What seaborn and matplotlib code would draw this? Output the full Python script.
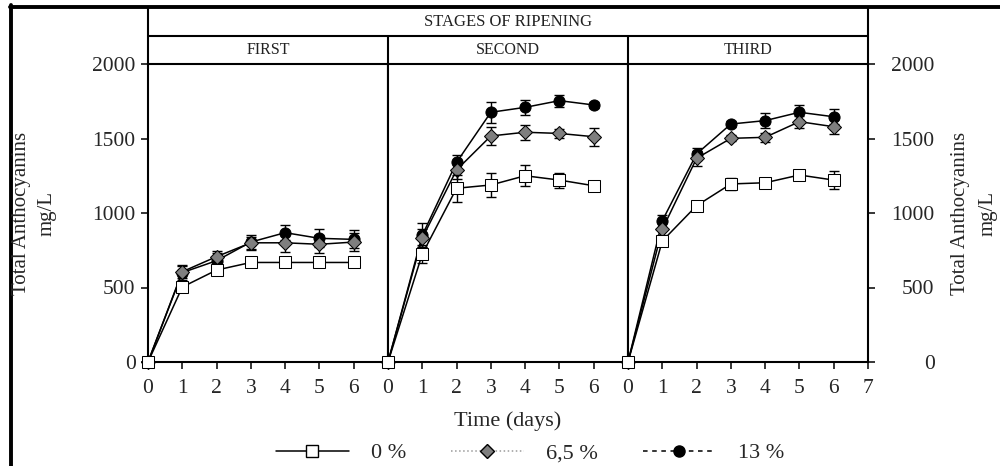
import matplotlib
matplotlib.use("Agg")
import matplotlib.pyplot as plt
import seaborn as sns
import pandas as pd
from matplotlib.lines import Line2D

# ---- data -------------------------------------------------------------
days = [0, 1, 2, 3, 4, 5, 6]
stages = ["FIRST", "SECOND", "THIRD"]
concentrations = ["0 %", "6,5 %", "13 %"]

first_0 = [0, 503, 617, 668, 668, 668, 668]
first_65 = [0, 606, 707, 800, 800, 790, 805]
first_13 = [0, 600, 680, 805, 868, 830, 823]

second_0 = [0, 725, 1166, 1188, 1250, 1221, 1183]
second_65 = [0, 832, 1289, 1517, 1542, 1534, 1512]
second_13 = [0, 850, 1340, 1676, 1709, 1754, 1725]

third_0 = [0, 812, 1049, 1195, 1203, 1255, 1221]
third_65 = [0, 890, 1367, 1501, 1508, 1613, 1579]
third_13 = [0, 948, 1396, 1597, 1620, 1676, 1646]

first_0_err = [0, 30, 30, 25, 20, 30, 30]
first_65_err = [0, 40, 40, 40, 60, 60, 60]
first_13_err = [0, 50, 50, 50, 50, 60, 60]
second_0_err = [0, 60, 90, 80, 70, 50, 20]
second_65_err = [0, 60, 60, 60, 50, 30, 60]
second_13_err = [0, 80, 50, 70, 50, 40, 20]
third_0_err = [0, 20, 30, 40, 20, 30, 60]
third_65_err = [0, 40, 50, 20, 30, 40, 50]
third_13_err = [0, 40, 40, 20, 50, 50, 50]

y_ticks = [0, 500, 1000, 1500, 2000]

values = {
    "FIRST": {"0 %": first_0, "6,5 %": first_65, "13 %": first_13},
    "SECOND": {"0 %": second_0, "6,5 %": second_65, "13 %": second_13},
    "THIRD": {"0 %": third_0, "6,5 %": third_65, "13 %": third_13},
}
errors = {
    "FIRST": {"0 %": first_0_err, "6,5 %": first_65_err, "13 %": first_13_err},
    "SECOND": {"0 %": second_0_err, "6,5 %": second_65_err, "13 %": second_13_err},
    "THIRD": {"0 %": third_0_err, "6,5 %": third_65_err, "13 %": third_13_err},
}

rows = []
for st in stages:
    for c in concentrations:
        for d, v, e in zip(days, values[st][c], errors[st][c]):
            rows.append({"stage": st, "conc": c, "day": d, "value": v, "err": e})
df = pd.DataFrame(rows)

# ---- style ------------------------------------------------------------
sns.set_style("ticks")
plt.rcParams["font.family"] = ["Liberation Serif", "DejaVu Serif"]
plt.rcParams["axes.linewidth"] = 1.5

TICK_FS = 15.5
LABEL_FS = 16

marker_style = {
    "0 %": dict(marker="s", markerfacecolor="white", markeredgecolor="black",
                markersize=8),
    "6,5 %": dict(marker="D", markerfacecolor="#7f7f7f", markeredgecolor="black",
                  markersize=7.5),
    "13 %": dict(marker="o", markerfacecolor="black", markeredgecolor="black",
                 markersize=8),
}
draw_order = ["13 %", "6,5 %", "0 %"]

W, H = 1000, 466
fig = plt.figure(figsize=(W / 100, H / 100), dpi=100)


def fx(px):
    return px / W


def fy(py):
    return 1 - py / H


ax_left, ax_right, ax_top, ax_bottom = 148, 868, 64, 362
panel_w = (ax_right - ax_left) / 3
axes = []
for i, st in enumerate(stages):
    ax = fig.add_axes([fx(ax_left + i * panel_w), fy(ax_bottom),
                       panel_w / W, (ax_bottom - ax_top) / H])
    axes.append(ax)
    sub = df[df["stage"] == st]
    for z, c in enumerate(draw_order):
        s = sub[sub["conc"] == c]
        ax.errorbar(s["day"], s["value"], yerr=s["err"], fmt="none",
                    ecolor="black", elinewidth=1.0, capsize=3.5, capthick=1.0,
                    zorder=2 + z, clip_on=False)
        sns.lineplot(x=s["day"], y=s["value"], ax=ax, color="black",
                     linewidth=1.1, zorder=3 + z, clip_on=False,
                     **marker_style[c])
    ax.set_xlim(0, 7)
    ax.set_ylim(0, 2000)
    ax.set_xlabel("")
    ax.set_ylabel("")
    ax.set_xticks(list(range(0, 8 if i == 2 else 7)))
    ax.tick_params(axis="x", direction="out", length=5, width=1.3,
                   labelsize=TICK_FS, pad=7.5)
    ax.set_yticks(y_ticks)
    if i == 0:
        ax.tick_params(axis="y", direction="out", length=5, width=1.3,
                       labelsize=TICK_FS, pad=4, left=True, right=False)
    elif i == 2:
        ax.yaxis.tick_right()
        ax.tick_params(axis="y", direction="out", length=5, width=1.3,
                       labelsize=TICK_FS, pad=43, left=False, right=True)
        for lab in ax.get_yticklabels():
            lab.set_horizontalalignment("right")
    else:
        ax.tick_params(axis="y", left=False, right=False, labelleft=False)
    for sp in ax.spines.values():
        sp.set_linewidth(1.5)
        sp.set_color("black")

axes[1].set_xlabel("Time (days)", fontsize=LABEL_FS, labelpad=9.5)

# ---- header boxes -----------------------------------------------------
def hline(x0, x1, y, lw=1.5):
    fig.add_artist(Line2D([fx(x0), fx(x1)], [fy(y), fy(y)],
                          transform=fig.transFigure, color="black", lw=lw))


def vline(x, y0, y1, lw=1.5):
    fig.add_artist(Line2D([fx(x), fx(x)], [fy(y0), fy(y1)],
                          transform=fig.transFigure, color="black", lw=lw))


hline(ax_left, ax_right, 36)
vline(ax_left, 7, ax_top)
vline(ax_right, 7, ax_top)
for i in range(1, 3):
    vline(ax_left + i * panel_w, 36, ax_top)

fig.text(fx((ax_left + ax_right) / 2), fy(22), "STAGES OF RIPENING",
         ha="center", va="center", fontsize=12, color="#222222")
for i, st in enumerate(stages):
    fig.text(fx(ax_left + (i + 0.5) * panel_w), fy(50), st,
             ha="center", va="center", fontsize=11.5, color="#222222")

# outer frame
hline(10, 1000, 6.5, lw=2.8)
vline(11, 5, 466, lw=2.8)

# ---- axis titles ------------------------------------------------------
ymid = fy((ax_top + ax_bottom) / 2)
for x0, x1 in [(22, 47), (961, 988)]:
    fig.text(fx(x0), ymid, "Total Anthocyanins", rotation=90,
             ha="center", va="center", fontsize=15)
    fig.text(fx(x1), ymid, "mg/L", rotation=90,
             ha="center", va="center", fontsize=15)

# ---- legend -----------------------------------------------------------
handles = [
    Line2D([], [], color="black", ls="-", lw=1.1, **marker_style["0 %"]),
    Line2D([], [], color="#9a9a9a", ls=":", lw=1.1, **marker_style["6,5 %"]),
    Line2D([], [], color="black", ls=(0, (3, 3)), lw=1.1,
           **marker_style["13 %"]),
]
fig.legend(handles, concentrations, loc="center", ncol=3, frameon=False,
           bbox_to_anchor=(fx(530), fy(453)), fontsize=LABEL_FS,
           handlelength=3.3, handletextpad=1.0, columnspacing=2.0)

fig.savefig("out.png", dpi=100)
